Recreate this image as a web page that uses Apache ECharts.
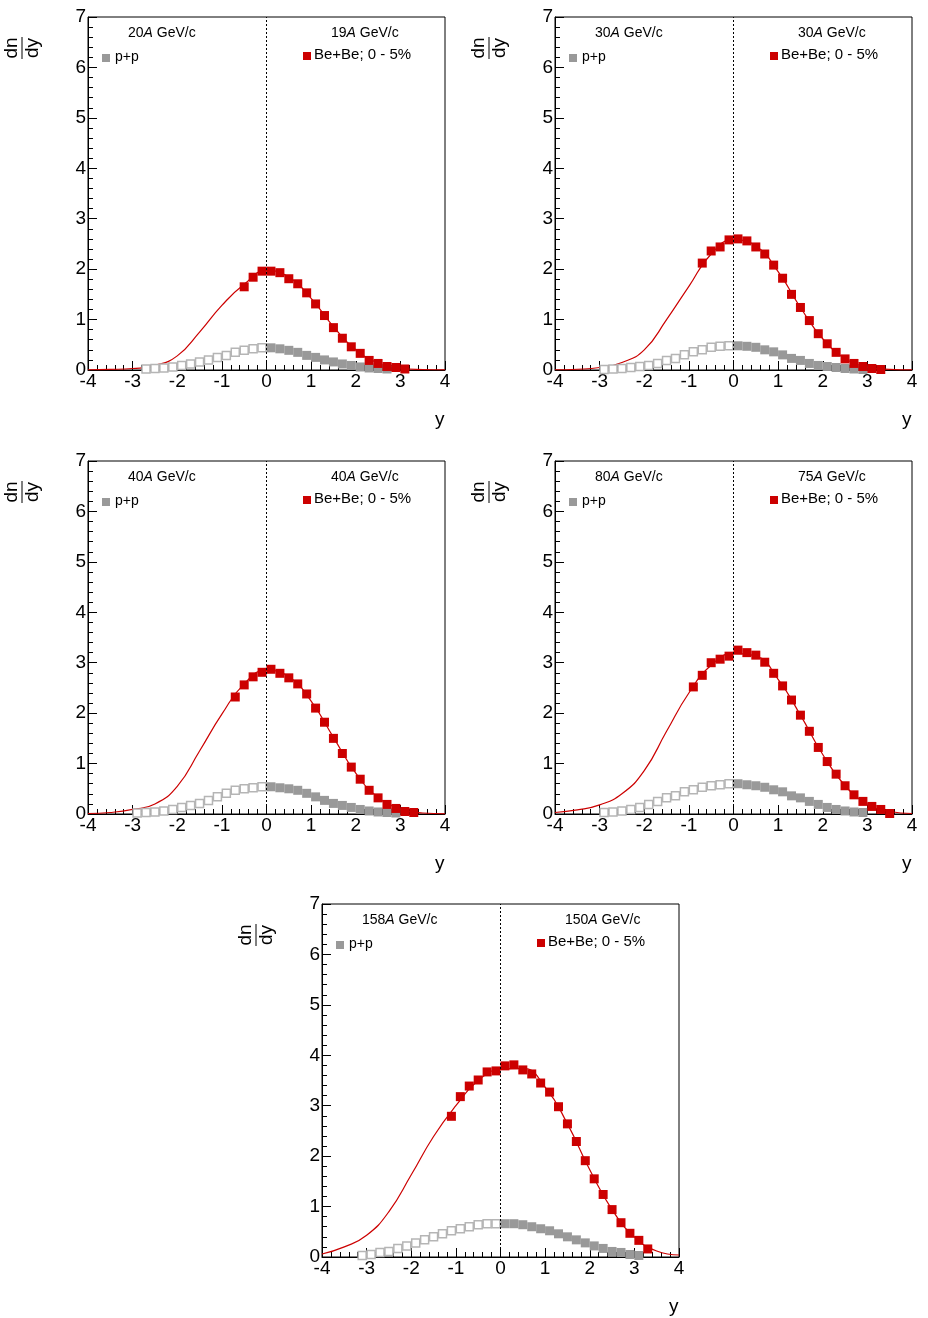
<!DOCTYPE html>
<html>
<head>
<meta charset="utf-8">
<script src="https://cdn.jsdelivr.net/npm/echarts@6/dist/echarts.min.js"></script>
<style>
	html, body { margin: 0; padding: 0; background: #fff; }
	#main { width: 928px; height: 1318px; }
</style>
</head>
<body>
<div id="main"></div>
<script>
// p+p rapidity bins (measured at y>0, reflected to y<0)
var ppX = [0.1, 0.3, 0.5, 0.7, 0.9, 1.1, 1.3, 1.5, 1.7, 1.9, 2.1, 2.3, 2.5, 2.7, 2.9, 3.1];

var ppY20 = [0.44, 0.42, 0.39, 0.35, 0.29, 0.25, 0.2, 0.16, 0.12, 0.09, 0.06, 0.04, 0.03, 0.02];
var ppY30 = [0.48, 0.47, 0.45, 0.40, 0.36, 0.30, 0.23, 0.19, 0.13, 0.09, 0.07, 0.05, 0.03, 0.02, 0.01];
var ppY40 = [0.54, 0.52, 0.50, 0.47, 0.41, 0.34, 0.27, 0.21, 0.17, 0.13, 0.09, 0.06, 0.04, 0.03, 0.02];
var ppY80 = [0.60, 0.58, 0.56, 0.53, 0.48, 0.44, 0.36, 0.32, 0.25, 0.19, 0.13, 0.09, 0.06, 0.04, 0.03];
var ppY158 = [0.66, 0.66, 0.64, 0.60, 0.56, 0.52, 0.46, 0.40, 0.34, 0.28, 0.22, 0.17, 0.11, 0.09, 0.05, 0.03];

// Be+Be 0-5% points
var beX19 = [-0.5, -0.3, -0.1, 0.1, 0.3, 0.5, 0.7, 0.9, 1.1, 1.3, 1.5, 1.7, 1.9, 2.1, 2.3, 2.5, 2.7, 2.9, 3.1];
var beY19 = [1.65, 1.84, 1.96, 1.96, 1.93, 1.81, 1.71, 1.53, 1.31, 1.08, 0.84, 0.63, 0.46, 0.33, 0.19, 0.13, 0.07, 0.05, 0.02];
var beX30 = [-0.7, -0.5, -0.3, -0.1, 0.1, 0.3, 0.5, 0.7, 0.9, 1.1, 1.3, 1.5, 1.7, 1.9, 2.1, 2.3, 2.5, 2.7, 2.9, 3.1, 3.3];
var beY30 = [2.12, 2.36, 2.44, 2.58, 2.60, 2.56, 2.44, 2.30, 2.08, 1.82, 1.50, 1.24, 0.98, 0.72, 0.52, 0.35, 0.22, 0.13, 0.07, 0.03, 0.01];
var beX40 = [-0.7, -0.5, -0.3, -0.1, 0.1, 0.3, 0.5, 0.7, 0.9, 1.1, 1.3, 1.5, 1.7, 1.9, 2.1, 2.3, 2.5, 2.7, 2.9, 3.1, 3.3];
var beY40 = [2.32, 2.56, 2.72, 2.81, 2.87, 2.79, 2.70, 2.58, 2.38, 2.10, 1.82, 1.50, 1.20, 0.93, 0.69, 0.47, 0.32, 0.19, 0.11, 0.05, 0.03];
var beX75 = [-0.9, -0.7, -0.5, -0.3, -0.1, 0.1, 0.3, 0.5, 0.7, 0.9, 1.1, 1.3, 1.5, 1.7, 1.9, 2.1, 2.3, 2.5, 2.7, 2.9, 3.1, 3.3, 3.5];
var beY75 = [2.52, 2.75, 3.00, 3.07, 3.13, 3.25, 3.20, 3.15, 3.01, 2.79, 2.54, 2.26, 1.96, 1.64, 1.32, 1.04, 0.79, 0.56, 0.38, 0.25, 0.15, 0.09, 0.01];
var beX150 = [-1.1, -0.9, -0.7, -0.5, -0.3, -0.1, 0.1, 0.3, 0.5, 0.7, 0.9, 1.1, 1.3, 1.5, 1.7, 1.9, 2.1, 2.3, 2.5, 2.7, 2.9, 3.1, 3.3];
var beY150 = [2.79, 3.18, 3.39, 3.51, 3.67, 3.69, 3.79, 3.81, 3.71, 3.63, 3.45, 3.27, 2.98, 2.64, 2.29, 1.91, 1.55, 1.24, 0.94, 0.68, 0.47, 0.33, 0.16];

// fit curve: full knots per panel
var fitX = [-4, -3.5, -3, -2.5, -2, -1.5, -1, -0.5, 0, 0.5, 1, 1.5, 2, 2.5, 3, 3.5, 4];
var fit19 = [0.005, 0.012, 0.03, 0.09, 0.28, 0.75, 1.28, 1.7, 1.97, 1.84, 1.42, 0.86, 0.40, 0.14, 0.04, 0.01, 0.002];
var fit30 = [0.005, 0.015, 0.05, 0.15, 0.40, 1.0, 1.66, 2.30, 2.58, 2.46, 1.95, 1.24, 0.62, 0.23, 0.06, 0.012, 0.002];
var fit40 = [0.01, 0.03, 0.09, 0.2, 0.55, 1.25, 1.98, 2.58, 2.85, 2.72, 2.24, 1.52, 0.81, 0.33, 0.10, 0.02, 0.004];
var fit75 = [0.03, 0.08, 0.18, 0.40, 0.86, 1.64, 2.40, 2.95, 3.18, 3.13, 2.67, 1.96, 1.18, 0.56, 0.20, 0.05, 0.01];
var fit150 = [0.06, 0.2, 0.43, 0.90, 1.63, 2.39, 3.0, 3.5, 3.72, 3.74, 3.37, 2.64, 1.73, 0.94, 0.40, 0.12, 0.04];

var titlesL = ['20', '30', '40', '80', '158'];
var titlesR = ['19', '30', '40', '75', '150'];

var panels = [
	{ L: 88, T: 17, pp: ppY20, bx: beX19, by: beY19, fit: fit19 },
	{ L: 555, T: 17, pp: ppY30, bx: beX30, by: beY30, fit: fit30 },
	{ L: 88, T: 461, pp: ppY40, bx: beX40, by: beY40, fit: fit40 },
	{ L: 555, T: 461, pp: ppY80, bx: beX75, by: beY75, fit: fit75 },
	{ L: 322, T: 904, pp: ppY158, bx: beX150, by: beY150, fit: fit150 }
];
var W = 357, H = 353;
var RED = '#cc0000', GREY = '#999999';
var font = 'Liberation Sans';

var grids = [], xAxes = [], yAxes = [], series = [], graphics = [];

function zip(xs, ys) {
	var out = [];
	for (var i = 0; i < ys.length; i++) out.push([xs[i], ys[i]]);
	return out;
}

panels.forEach(function(p, i) {
	grids.push({ left: p.L, top: p.T, width: W, height: H, show: true, borderColor: '#000', borderWidth: 1 });
	xAxes.push({
		gridIndex: i, type: 'value', min: -4, max: 4, interval: 1,
		axisLine: { onZero: false, lineStyle: { color: '#000' } },
		axisTick: { inside: true, length: 9, lineStyle: { color: '#000' } },
		minorTick: { show: true, splitNumber: 5, length: 5, lineStyle: { color: '#000' } },
		splitLine: { show: false },
		axisLabel: { color: '#000', fontSize: 19, fontFamily: font, margin: 2 }
	});
	yAxes.push({
		gridIndex: i, type: 'value', min: 0, max: 7, interval: 1,
		axisLine: { show: true, onZero: false, lineStyle: { color: '#000' } },
		axisTick: { inside: true, length: 9, lineStyle: { color: '#000' } },
		minorTick: { show: true, splitNumber: 5, length: 5, lineStyle: { color: '#000' } },
		splitLine: { show: false },
		axisLabel: { color: '#000', fontSize: 19, fontFamily: font, margin: 2 }
	});

	var ppPos = zip(ppX, p.pp);
	var ppNeg = ppPos.map(function(d) { return [-d[0], d[1]]; });

	series.push({
		type: 'line', xAxisIndex: i, yAxisIndex: i, data: zip(fitX, p.fit), smooth: 0.5,
		showSymbol: false, silent: true, lineStyle: { color: RED, width: 1.2 }, z: 1
	});
	series.push({
		type: 'line', xAxisIndex: i, yAxisIndex: i, data: [], silent: true,
		markLine: {
			silent: true, symbol: 'none', label: { show: false },
			lineStyle: { color: '#000', type: [2, 2], width: 1 },
			data: [{ xAxis: 0 }]
		}, z: 5
	});
	series.push({
		type: 'line', xAxisIndex: i, yAxisIndex: i, data: ppNeg, smooth: true,
		symbol: 'rect', symbolSize: 8, showAllSymbol: true,
		lineStyle: { color: '#d8d8d8', width: 1 },
		itemStyle: { color: '#fff', borderColor: '#b5b5b5', borderWidth: 1.5 }, z: 2
	});
	series.push({
		type: 'scatter', xAxisIndex: i, yAxisIndex: i, data: ppPos,
		symbol: 'rect', symbolSize: 9, itemStyle: { color: GREY, borderWidth: 0, opacity: 1 }, z: 3
	});
	series.push({
		type: 'scatter', xAxisIndex: i, yAxisIndex: i, data: zip(p.bx, p.by),
		symbol: 'rect', symbolSize: 9, itemStyle: { color: RED, borderWidth: 0, opacity: 1 }, z: 4
	});

	var rich = { n: { fontSize: 14, fontFamily: font }, a: { fontSize: 14, fontStyle: 'italic', fontFamily: font } };
	graphics.push({ type: 'text', left: p.L + 40, top: p.T + 9, style: { text: '{n|' + titlesL[i] + '}{a|A}{n| GeV/c}', rich: rich } });
	graphics.push({ type: 'text', left: p.L + 243, top: p.T + 9, style: { text: '{n|' + titlesR[i] + '}{a|A}{n| GeV/c}', rich: rich } });
	graphics.push({ type: 'rect', shape: { x: p.L + 14, y: p.T + 37, width: 8, height: 8 }, style: { fill: GREY } });
	graphics.push({ type: 'text', x: p.L + 27, y: p.T + 33, style: { text: 'p+p', fontSize: 14, fontFamily: font } });
	graphics.push({ type: 'rect', shape: { x: p.L + 215, y: p.T + 35, width: 8, height: 8 }, style: { fill: RED } });
	graphics.push({ type: 'text', x: p.L + 226, y: p.T + 30, style: { text: 'Be+Be; 0 - 5%', fontSize: 15, fontFamily: font } });
	graphics.push({ type: 'text', x: p.L + 347, y: p.T + 393, style: { text: 'y', fontSize: 19, fontFamily: font } });
	graphics.push({
		type: 'group', x: p.L - 66, y: p.T + 21, rotation: Math.PI / 2,
		children: [
			{ type: 'text', x: -10, y: -1, style: { text: 'dn', fontSize: 19, fontFamily: font, align: 'center', verticalAlign: 'bottom' } },
			{ type: 'line', shape: { x1: -21, y1: 0, x2: 1, y2: 0 }, style: { stroke: '#000', lineWidth: 1 } },
			{ type: 'text', x: -10, y: 1, style: { text: 'dy', fontSize: 19, fontFamily: font, align: 'center', verticalAlign: 'top' } }
		]
	});
});

var chart = echarts.init(document.getElementById('main'));
chart.setOption({
	animation: false,
	grid: grids,
	xAxis: xAxes,
	yAxis: yAxes,
	series: series,
	graphic: graphics
});
</script>
</body>
</html>
